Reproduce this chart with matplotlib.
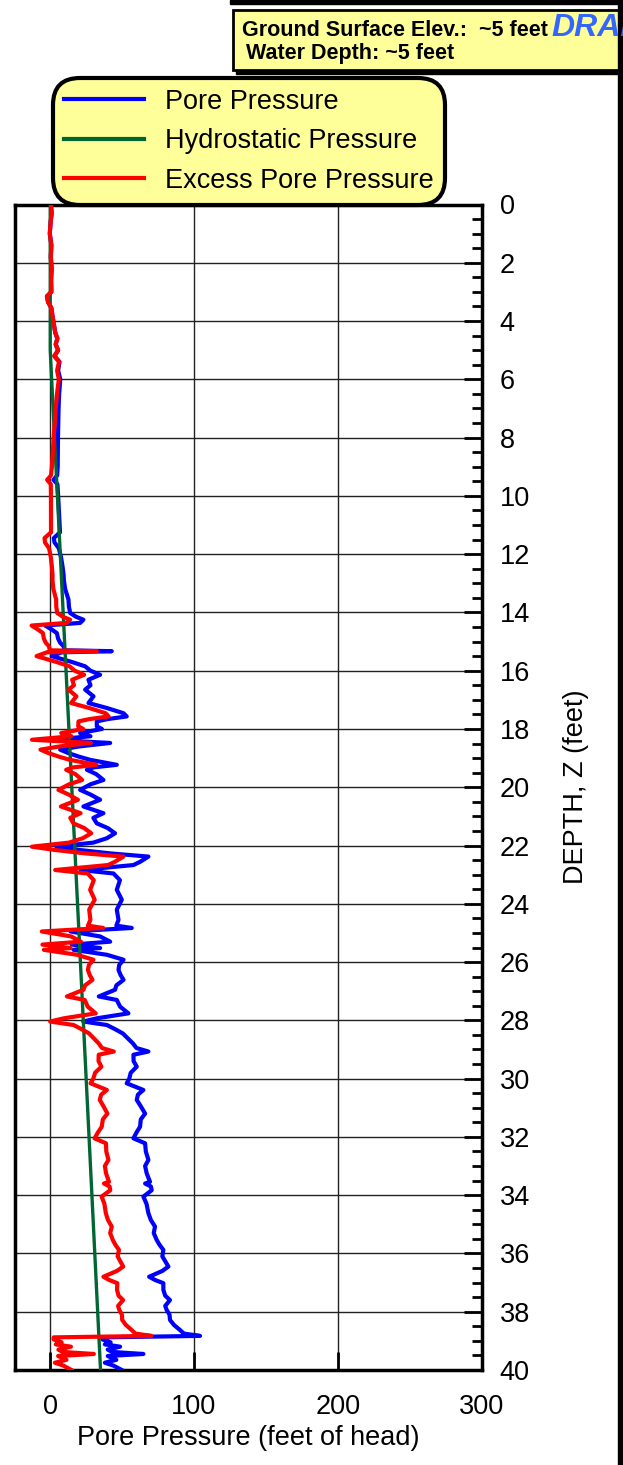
import numpy as np
import matplotlib.pyplot as plt
from matplotlib.patches import Rectangle
from matplotlib.ticker import MultipleLocator

plt.rcParams['font.family'] = ['Liberation Sans', 'DejaVu Sans']

# CPT sounding: measured pore pressure (feet of head) vs depth (feet)
depth_ft = [
    0.0, 0.3, 0.6, 1.0, 1.4, 1.8, 2.2, 2.6, 3.0, 3.15, 3.35, 3.55, 3.8, 4.1,
    4.4, 4.6, 4.8, 5.0, 5.2, 5.4, 5.7, 6.0, 6.5, 7.0, 7.5, 8.0, 8.5, 9.0,
    9.3, 9.45, 9.6, 10.0, 10.5, 11.0, 11.25, 11.45, 11.6, 11.8, 12.1, 12.4,
    12.7, 12.9, 13.2, 13.56, 13.8, 14.02, 14.15, 14.25, 14.36, 14.45, 14.6,
    14.71, 14.9, 15.04, 15.16, 15.3, 15.33, 15.37, 15.5, 15.6, 15.7, 15.85,
    16.0, 16.14, 16.31, 16.5, 16.65, 16.88, 17.11, 17.28, 17.46, 17.57,
    17.66, 17.74, 17.91, 18.0, 18.14, 18.25, 18.37, 18.48, 18.6, 18.71,
    18.83, 18.95, 19.06, 19.23, 19.32, 19.4, 19.55, 19.75, 19.9, 20.09,
    20.25, 20.43, 20.66, 20.89, 21.05, 21.24, 21.4, 21.58, 21.75, 21.9,
    22.04, 22.15, 22.27, 22.38, 22.56, 22.67, 22.84, 22.96, 23.19, 23.52,
    23.86, 24.2, 24.55, 24.75, 24.83, 24.95, 25.12, 25.3, 25.4, 25.52,
    25.58, 25.75, 25.92, 26.1, 26.27, 26.45, 26.61, 26.8, 26.95, 27.18,
    27.3, 27.53, 27.76, 27.93, 28.04, 28.16, 28.3, 28.45, 28.62, 28.79,
    28.95, 29.07, 29.18, 29.4, 29.59, 29.8, 30.0, 30.16, 30.39, 30.55,
    30.73, 30.95, 31.2, 31.4, 31.65, 31.85, 32.05, 32.22, 32.5, 32.79,
    33.0, 33.25, 33.54, 33.6, 33.7, 33.83, 34.05, 34.3, 34.62, 34.85,
    35.08, 35.3, 35.54, 35.7, 35.88, 36.1, 36.45, 36.6, 36.8, 36.91,
    37.02, 37.25, 37.45, 37.6, 37.8, 37.94, 38.1, 38.28, 38.45, 38.63,
    38.75, 38.83, 38.88, 38.95, 39.05, 39.12, 39.2, 39.3, 39.38, 39.45,
    39.52, 39.65, 39.75, 39.85, 40.0,
]
pore_ft = [
    0.5, 1.0, 0.3, -0.3, 0.8, 0.4, 1.0, 0.6, 0.8, -2.3, -1.5, 0.8, 1.5, 2.5,
    3.5, 5.0, 3.8, 5.5, 3.0, 6.5, 5.5, 7.0, 6.2, 5.8, 5.6, 5.4, 5.3, 5.2,
    4.8, 2.3, 5.0, 5.5, 6.0, 6.5, 6.8, 2.5, 3.0, 6.0, 7.5, 8.5,
    9.3, 9.5, 10.4, 12.7, 13.0, 13.9, 18.0, 23.1, 20.8, -3.5, 1.5,
    4.6, 5.5, 6.9, 9.3, 10.0, 42.8, 8.0, 1.0, 8.0, 15.0, 24.3,
    28.0, 34.7, 26.6, 28.0, 24.3, 30.1, 26.6, 39.4, 51.0, 53.2,
    40.0, 32.4, 32.4, 36.0, 20.8, 28.0, 0.7, 41.7, 20.0, 6.9,
    12.7, 20.0, 27.8, 46.3, 30.0, 25.5, 32.0, 37.0, 28.0, 20.8,
    28.0, 34.7, 23.1, 37.0, 30.0, 32.4, 40.0, 45.1, 39.4, 30.0,
    4.3, 20.0, 41.7, 68.3, 62.5, 57.9, 21.3, 44.0, 48.5, 46.3,
    49.8, 46.3, 47.5, 46.0, 56.7, 14.1, 34.7, 41.7, 15.0, 34.7,
    16.2, 39.4, 51.0, 48.0, 47.5, 49.0, 51.0, 46.0, 45.1, 33.8,
    46.3, 48.6, 54.4, 32.4, 23.0, 39.4, 45.0, 50.5, 54.0, 57.5,
    60.0, 68.3, 57.9, 58.0, 60.2, 56.0, 55.0, 53.2, 64.8, 61.0,
    60.2, 63.0, 66.0, 63.0, 62.5, 60.0, 57.9, 66.0, 66.5, 68.3,
    66.0, 67.1, 69.4, 66.0, 70.0, 70.6, 64.8, 67.0, 68.3, 70.0,
    72.9, 72.0, 74.1, 76.0, 78.7, 78.0, 82.2, 78.0, 68.8, 72.9,
    78.7, 78.7, 80.0, 83.3, 80.0, 81.0, 83.0, 83.3, 86.0, 90.3,
    93.0, 104.2, 36.3, 36.3, 42.0, 38.0, 48.6, 40.0, 43.0, 64.8,
    40.0, 46.0, 38.0, 44.0, 49.8,
]

# hydrostatic head below the water table (water depth ~5 ft)
hydro_depth = [0.0, 5.0, 40.0]
hydro_head = [0.0, 0.0, 35.0]

depth = np.array(depth_ft)
pore = np.array(pore_ft)
excess = pore - np.interp(depth, hydro_depth, hydro_head)

fig = plt.figure(figsize=(6.23, 14.65), dpi=100)
W, H = 623, 1465
ax = fig.add_axes([15 / W, 1 - 1370 / H, 466.5 / W, 1165.5 / H])

ax.plot(pore, depth, color='#0000ff', lw=3.0, label='Pore Pressure', zorder=3)
ax.plot(hydro_head, hydro_depth, color='#006633', lw=2.4,
        label='Hydrostatic Pressure', zorder=4)
ax.plot(excess, depth, color='#ff0000', lw=3.0, label='Excess Pore Pressure',
        zorder=5)

ax.set_xlim(-24.5, 300)
ax.set_ylim(40, 0)

ax.xaxis.set_major_locator(MultipleLocator(100))
ax.yaxis.set_major_locator(MultipleLocator(2))
ax.yaxis.set_minor_locator(MultipleLocator(0.5))
ax.yaxis.tick_right()
ax.yaxis.set_label_position('right')
ax.tick_params(axis='y', which='major', direction='in', length=13, width=2,
               pad=13, labelsize=19.5, right=True, left=False)
ax.tick_params(axis='y', which='minor', direction='in', length=7, width=2,
               right=True, left=False)
ax.tick_params(axis='x', which='major', direction='in', length=13, width=2,
               pad=17, labelsize=19.5)

ax.grid(True, which='major', color='#222222', lw=1.0)
for s in ax.spines.values():
    s.set_linewidth(2.5)

ax.set_xlabel('Pore Pressure (feet of head)', fontsize=19.5, labelpad=4)
ax.set_ylabel('DEPTH, Z (feet)', fontsize=19.5, labelpad=24, rotation=90)

leg = fig.legend(loc='upper left', bbox_to_anchor=(53 / W, 1 - 78 / H),
                 fontsize=19.5, handlelength=2.95, handletextpad=0.8,
                 labelspacing=0.5, borderpad=0.4, borderaxespad=0,
                 fancybox=True, framealpha=1, edgecolor='black',
                 facecolor='#ffff99')
leg.get_frame().set_linewidth(3)
leg.get_frame().set_boxstyle('round,pad=0,rounding_size=1.0')
for line in leg.get_lines():
    line.set_linewidth(3)

# site info box at top right
fig.patches.append(Rectangle((230 / W, 1 - 4 / H), 393 / W, 4 / H,
                             transform=fig.transFigure, color='black'))
fig.patches.append(Rectangle((236 / W, 1 - 74 / H), 390 / W, 63 / H,
                             transform=fig.transFigure, color='black'))
fig.patches.append(Rectangle((233 / W, 1 - 70 / H), 390 / W, 60 / H,
                             transform=fig.transFigure, facecolor='#ffff99',
                             edgecolor='black', lw=2))
fig.text(242 / W, 1 - 31 / H, 'Ground Surface Elev.:  ~5 feet',
         fontsize=15.5, fontweight='bold', va='center', ha='left')
fig.text(246 / W, 1 - 53 / H, 'Water Depth: ~5 feet',
         fontsize=15.5, fontweight='bold', va='center', ha='left')
fig.text(551 / W, 1 - 28 / H, 'DRAFT', fontsize=23, fontweight='bold',
         style='italic', color='#3366ff', va='center', ha='left')

# border strip on the right edge
fig.patches.append(Rectangle((618 / W, 0), 5 / W, 1,
                             transform=fig.transFigure, color='black'))

fig.savefig('out.png', dpi=100)
